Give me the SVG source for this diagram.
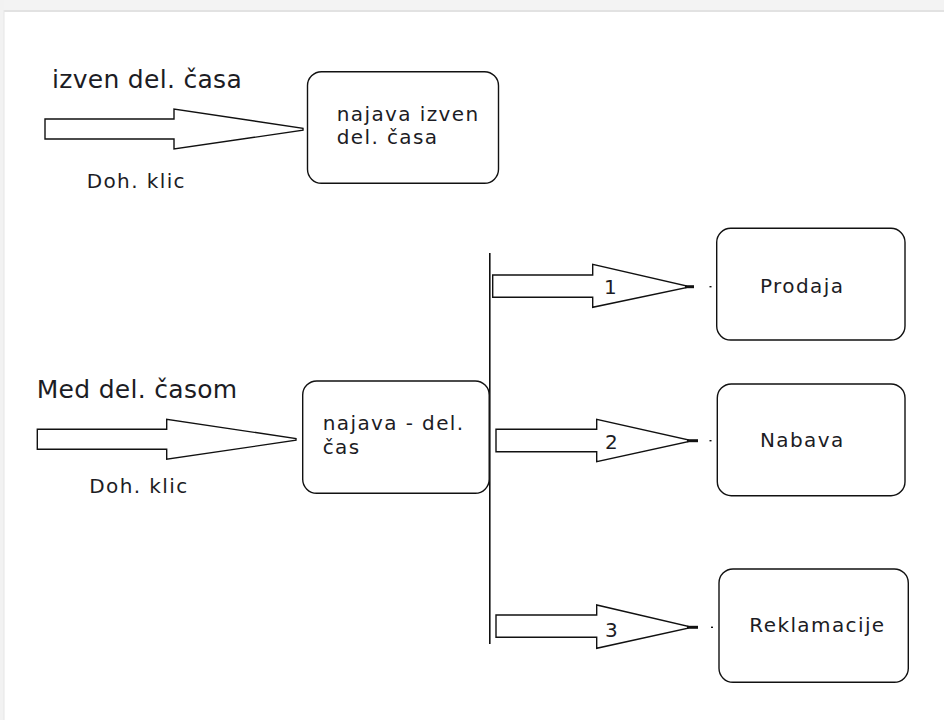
<svg xmlns="http://www.w3.org/2000/svg" width="944" height="720" viewBox="0 0 944 720">
<style>
.t{font-family:"DejaVu Sans",Verdana,sans-serif;fill:#1c1c24}
.h{font-size:25px;letter-spacing:0.3px}
.m{font-size:20px;letter-spacing:1.4px}
.arr{fill:#fff;stroke:#111;stroke-width:1.4;stroke-linejoin:miter}
.box{fill:#fff;stroke:#111;stroke-width:1.4}
.tip{stroke:#111;stroke-width:3}
.dot{fill:#111}
</style>
<rect x="0" y="0" width="944" height="720" fill="#fff"/>
<rect x="0" y="0" width="944" height="10" fill="#f3f3f3"/>
<rect x="0" y="10" width="944" height="2" fill="#e2e2e2"/>
<rect x="0" y="0" width="4" height="720" fill="#f2f2f2"/>
<rect x="3.5" y="10" width="1" height="710" fill="#e6e6e6"/>

<text class="t h" x="52" y="87.7">izven del. časa</text>
<text class="t m" x="86.7" y="188.3">Doh. klic</text>
<text class="t h" x="36.7" y="397.7">Med del. časom</text>
<text class="t m" x="89.3" y="492.7">Doh. klic</text>

<g id="connectors">
  <polygon class="arr" points="45,119 174,119 174,109 303,128.4 303,130.2 174,149 174,139 45,139"/>
  <polygon class="arr" points="37.3,429.3 166.7,429.3 166.7,419.3 296,438.6 296,440.2 166.7,459.3 166.7,449.3 37.3,449.3"/>
  <line x1="489.8" y1="253" x2="489.8" y2="644" stroke="#111" stroke-width="1.6"/>
  <g id="branch1">
    <polygon class="arr" points="492.7,275 592.7,275 592.7,264.3 686,285.8 686,287.6 592.7,307.3 592.7,297.3 492.7,297.3"/>
    <line class="tip" x1="685" y1="286.7" x2="694" y2="286.7"/>
    <rect class="dot" x="709.5" y="286" width="2" height="1.4"/>
    <text class="t m" x="604" y="294">1</text>
  </g>
  <g id="branch2">
    <polygon class="arr" points="496,429.3 596.7,429.3 596.7,419.3 688,439.8 688,441.6 596.7,461.7 596.7,451.7 496,451.7"/>
    <line class="tip" x1="687" y1="440.7" x2="698" y2="440.7"/>
    <rect class="dot" x="709.5" y="440" width="2" height="1.4"/>
    <text class="t m" x="605" y="449.3">2</text>
  </g>
  <g id="branch3">
    <polygon class="arr" points="496,615 596.7,615 596.7,605 688,626.4 688,628.2 596.7,648.3 596.7,637.3 496,637.3"/>
    <line class="tip" x1="687" y1="627.3" x2="698" y2="627.3"/>
    <rect class="dot" x="711" y="626.6" width="2" height="1.4"/>
    <text class="t m" x="605" y="636.7">3</text>
  </g>
</g>

<g id="node-najava-izven">
  <rect class="box" x="307.5" y="71.7" width="191" height="111.6" rx="14" ry="14"/>
  <text class="t m" x="336.7" y="121">najava izven</text>
  <text class="t m" x="336.7" y="144">del. časa</text>
</g>
<g id="node-najava-del">
  <rect class="box" x="302.7" y="381" width="186.5" height="112.3" rx="14" ry="14"/>
  <text class="t m" x="322.7" y="429.5">najava - del.</text>
  <text class="t m" x="322.7" y="453.5">čas</text>
</g>
<g id="node-prodaja">
  <rect class="box" x="716.7" y="228.3" width="188.3" height="111.7" rx="14" ry="14"/>
  <text class="t m" x="760" y="292.7">Prodaja</text>
</g>
<g id="node-nabava">
  <rect class="box" x="717.3" y="384" width="187.7" height="111.7" rx="14" ry="14"/>
  <text class="t m" x="760" y="447">Nabava</text>
</g>
<g id="node-reklamacije">
  <rect class="box" x="719" y="569" width="189.3" height="113.3" rx="14" ry="14"/>
  <text class="t m" x="749.3" y="631.7">Reklamacije</text>
</g>
</svg>
